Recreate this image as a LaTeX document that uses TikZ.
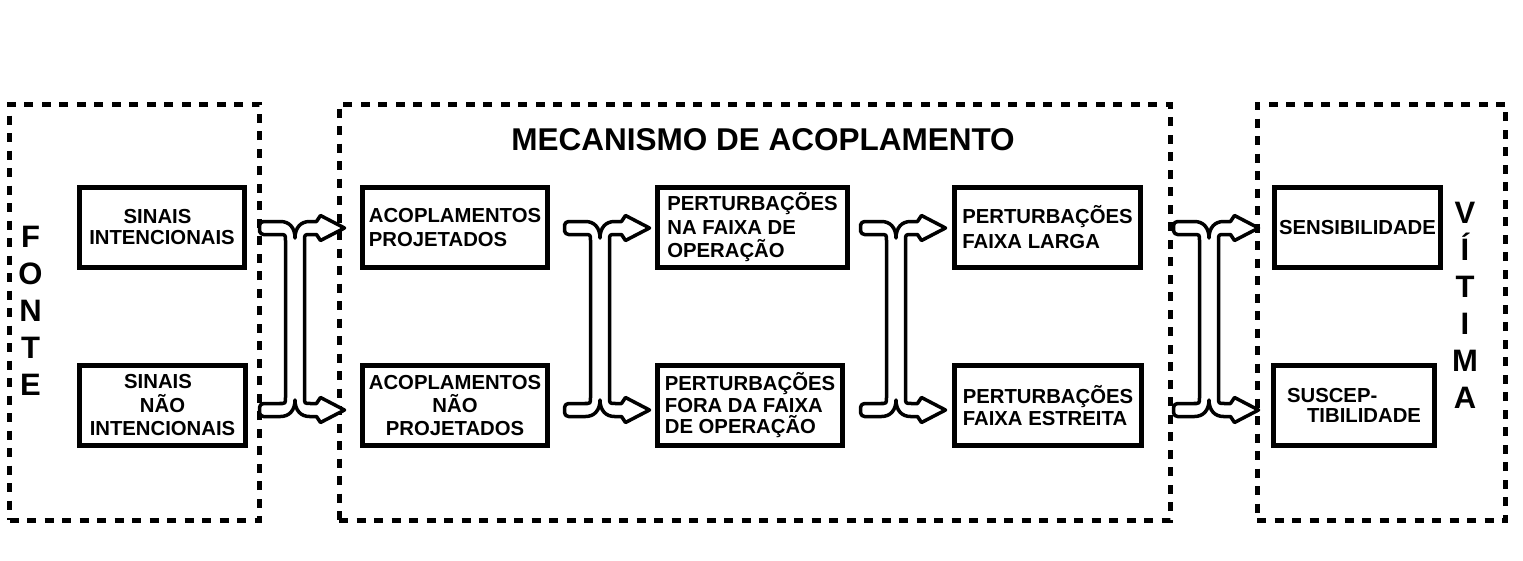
\documentclass[tikz,border=0pt]{standalone}
\usepackage{fontspec}
\setmainfont{Liberation Sans}
\usetikzlibrary{calc}
\newcommand\boxfont[1]{\fontsize{20.3}{#1}\selectfont\bfseries}
\tikzset{
  dashbox/.style={draw, line width=5pt, dash pattern=on 9pt off 8.5pt, inner sep=0pt},
  stepbox/.style={draw, line width=5pt, minimum height=80pt, inner sep=0pt},
  sidelabel/.style={inner sep=0pt, align=center, font=\fontsize{31}{37}\selectfont\bfseries},
  pics/merge/.style={code={
    \draw[line width=3.5pt, fill=white, line join=round]
      [rounded corners=4pt] (0,0) -- (0,-6.5) -- (19,-6.5) [sharp corners] -- (21,-6.5)
      .. controls (30,-6.5) and (35.5,0) .. (35.5,10)
      .. controls (35.5,0) and (41,-6.5) .. (50,-6.5)
      -- (57,-6.5) -- (61,-12.5) -- (85,0) -- (61,12.5) -- (57,6.5) -- (51,6.5)
      .. controls (45,6.5) .. (45,12.5)
      -- (45,169.5) .. controls (45,175.5) .. (51,175.5)
      -- (57,175.5) -- (61,169.5) -- (85,182) -- (61,194.5) -- (57,188.5) -- (50,188.5)
      .. controls (41,188.5) and (35.5,182) .. (35.5,172)
      .. controls (35.5,182) and (30,188.5) .. (21,188.5)
      -- (19,188.5) [rounded corners=4pt] -- (0,188.5) -- (0,175.5) -- (19,175.5) [sharp corners] -- (20,175.5)
      .. controls (26,175.5) .. (26,169.5)
      -- (26,12.5) .. controls (26,6.5) .. (20,6.5)
      -- (19,6.5) [rounded corners=4pt] -- (0,6.5) -- cycle;
  }}
}
\begin{document}
\begin{tikzpicture}[x=1pt,y=-1pt]
\useasboundingbox (0,0) rectangle (1523,560);
% dotted frames
\node[dashbox, minimum width=250pt, minimum height=416pt] (fonte) at (134.5,312) {};
\node[dashbox, minimum width=831pt, minimum height=416pt] (mecanismo) at (754.5,312) {};
\node[dashbox, minimum width=248.5pt, minimum height=416pt] (vitima) at (1381.25,312) {};
% titles
\node[inner sep=0pt, font=\fontsize{31.5}{37}\selectfont\bfseries] (title) at (763,139.5) {MECANISMO DE ACOPLAMENTO};
\node[sidelabel] (fonteL) at (30.5,311) {F\\O\\N\\T\\E};
\node[sidelabel] (vitimaL) at (1465,305.5) {V\\Í\\T\\I\\M\\A};
% boxes
\node[stepbox, minimum width=165pt, align=center, font=\boxfont{21}] (sin1) at (162,227.5) {SINAIS\hspace*{9pt}\\INTENCIONAIS};
\node[stepbox, minimum width=166pt, align=center, font=\boxfont{23.5}] (sin2) at (162.5,405.5) {SINAIS\hspace*{9pt}\\NÃO\hspace*{16pt}\\INTENCIONAIS};
\node[stepbox, minimum width=185pt, align=left, font=\boxfont{24}] (aco1) at (455,227.5) {ACOPLAMENTOS\\PROJETADOS};
\node[stepbox, minimum width=185pt, align=center, font=\boxfont{23}] (aco2) at (455,405.5) {ACOPLAMENTOS\\NÃO\\PROJETADOS};
\node[stepbox, minimum width=190pt, align=left, font=\boxfont{23.5}] (per1) at (752.5,227.5) {PERTURBAÇÕES\\NA FAIXA DE\\OPERAÇÃO};
\node[stepbox, minimum width=185pt, align=left, font=\boxfont{21.5}] (per2) at (750,405.5) {PERTURBAÇÕES\\FORA DA FAIXA\\DE OPERAÇÃO};
\node[stepbox, minimum width=186pt, align=left, font=\boxfont{25}] (larga) at (1047.5,227.5) {PERTURBAÇÕES\\FAIXA LARGA};
\node[stepbox, minimum width=187pt, align=left, font=\boxfont{22.5}] (estreita) at (1048,405.5) {PERTURBAÇÕES\\FAIXA ESTREITA};
\node[stepbox, minimum width=166pt, align=center, font=\boxfont{24}] (sens) at (1357.5,227.5) {SENSIBILIDADE};
\node[stepbox, minimum width=161pt, align=left, font=\boxfont{19.5}] (susc) at (1354,405.5) {SUSCEP-\\\hspace*{20pt}TIBILIDADE};
% connectors
\pic at ($(sin1.east)+(12.5,0.5)$) {merge};
\pic at ($(aco1.east)+(14.5,0.5)$) {merge};
\pic at ($(per1.east)+(10.5,0.5)$) {merge};
\pic at ($(larga.east)+(30.5,0.5)$) {merge};
\end{tikzpicture}
\end{document}
